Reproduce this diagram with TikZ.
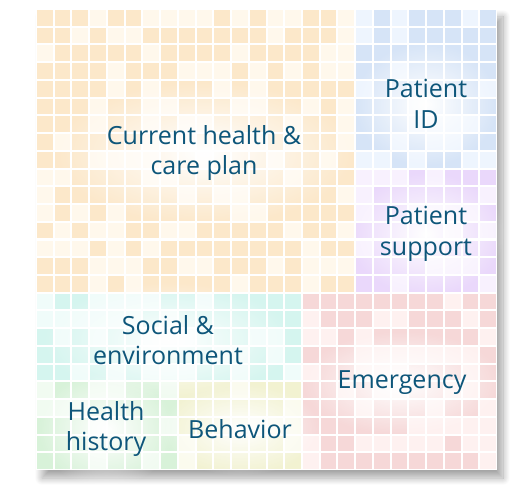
\documentclass[tikz,border=0pt]{standalone}
\usepackage{fontspec}
\setmainfont{Open Sans}
\usetikzlibrary{shadows.blur,fadings}
\definecolor{txt}{RGB}{14,86,122}
\definecolor{orF}{HTML}{FCE8CA}\definecolor{orL}{HTML}{FFF8EC}
\definecolor{blF}{HTML}{D6E4F7}\definecolor{blL}{HTML}{EEF5FE}
\definecolor{puF}{HTML}{EAD8FB}\definecolor{puL}{HTML}{F8F1FE}
\definecolor{teF}{HTML}{D5F5EF}\definecolor{teL}{HTML}{F0FCFA}
\definecolor{grF}{HTML}{D8F2D9}\definecolor{grL}{HTML}{F1FBF1}
\definecolor{yeF}{HTML}{F2F2D1}\definecolor{yeL}{HTML}{FBFBEE}
\definecolor{reF}{HTML}{F6D8D8}\definecolor{reL}{HTML}{FEF1F0}
\tikzfading[name=glowfade, inner color=transparent!0, outer color=transparent!100]
\newcommand{\cellregion}[6]{%
  \pgfmathtruncatemacro{\cend}{#1+#3-1}%
  \pgfmathtruncatemacro{\rend}{#2+#4-1}%
  \foreach \c in {#1,...,\cend}{%
    \foreach \r in {#2,...,\rend}{%
      \pgfmathsetmacro{\xa}{36+\c*17.7308+1}%
      \pgfmathsetmacro{\ya}{499-9-\r*17.7308-1}%
      \pgfmathrandominteger{\k}{0}{99}%
      \ifnum\k<33 \def\cc{#6}\else\def\cc{#5}\fi
      \fill[\cc] (\xa,\ya) rectangle ++(15.73,-15.73);
    }%
  }%
}
\tikzset{
  lbl/.style={text=txt, font=\fontsize{25}{30.5}\selectfont, align=center, inner sep=0pt},
  glow/.style={fill=white, path fading=glowfade}
}
\begin{document}
\begin{tikzpicture}[x=1pt,y=1pt]
\useasboundingbox (0,0) rectangle (512,499);
\pgfmathsetseed{4217}
\fill[white, blur shadow={shadow xshift=6pt, shadow yshift=-8pt, shadow blur radius=7pt, shadow blur steps=14, shadow opacity=35}] (36,490) rectangle (497,29);
\cellregion{0}{0}{18}{16}{orF}{orL}
\cellregion{18}{0}{8}{9}{blF}{blL}
\cellregion{18}{9}{8}{7}{puF}{puL}
\cellregion{0}{16}{15}{5}{teF}{teL}
\cellregion{0}{21}{8}{5}{grF}{grL}
\cellregion{8}{21}{7}{5}{yeF}{yeL}
\cellregion{15}{16}{11}{10}{reF}{reL}
% glows
\fill[glow] (204,346) ellipse (150 and 72);
\fill[glow] (426,395) ellipse (72 and 62);
\fill[glow] (426,265) ellipse (78 and 62);
\fill[glow] (168,159) ellipse (125 and 58);
\fill[glow] (106,70) ellipse (68 and 58);
\fill[glow] (240,70) ellipse (80 and 46);
\fill[glow] (402,116) ellipse (100 and 52);
% labels
\node[lbl] (cur) at (204,346) {Current health \&\\care plan};
\node[lbl] (pid) at (426,395) {Patient\\ID};
\node[lbl] (psup) at (426,265) {Patient\\support};
\node[lbl] (soc) at (168,159) {Social \&\\environment};
\node[lbl] (hist) at (106,70) {Health\\history};
\node[lbl] (beh) at (240,70) {Behavior};
\node[lbl] (emg) at (402,116) {Emergency};
\end{tikzpicture}
\end{document}
